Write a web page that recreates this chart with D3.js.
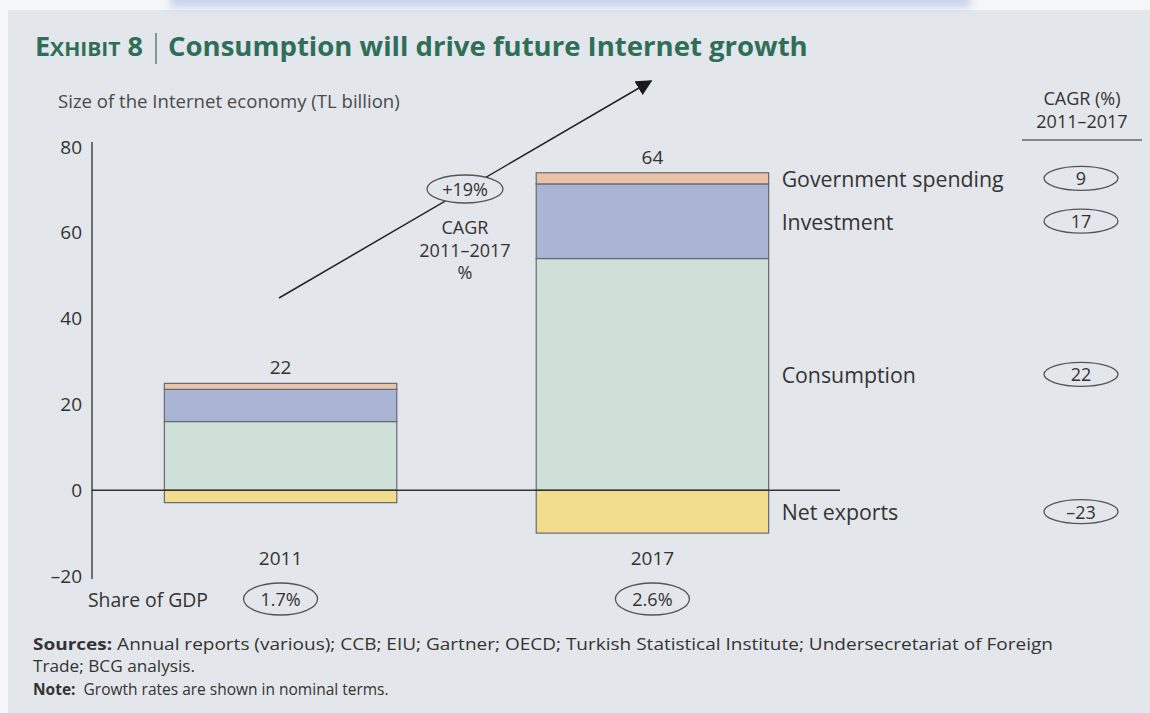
<!DOCTYPE html>
<html>
<head>
<meta charset="utf-8">
<script src="https://cdn.jsdelivr.net/npm/d3@7"></script>
<style>
  body { margin: 0; background: #ffffff; }
  svg { display: block; }
  text { font-family: "Open Sans", "Noto Sans", sans-serif; }
</style>
</head>
<body>
<svg id="chart" width="1150" height="713"></svg>
<script>
// ---- data (TL billion) ----
const years = ["2011", "2017"];
const components = ["Net exports", "Consumption", "Investment", "Government spending"];
const netExports = [-2.9, -10];
const consumption = [16, 54];
const investment = [7.5, 17.4];
const government = [1.4, 2.6];
const componentCagr = [-23, 22, 17, 9];          // % per year, 2011–2017, same order as components
const gdpShare = ["1.7%", "2.6%"];
const totalCagr = "+19%";
const yTicks = [-20, 0, 20, 40, 60, 80];

const W = 1150, H = 713;
const svg = d3.select("#chart");
const panel = "#e3e6ea";
const ink = "#333333";
const green = "#2f6e58";

// scale a text element's font size so its advance width equals w
function fitWidth(sel, w) {
  const len = sel.node().getComputedTextLength();
  const fs = parseFloat(sel.attr("font-size"));
  sel.attr("font-size", (fs * w / len).toFixed(2));
  return sel;
}
// keep the font size, stretch or squeeze the run to width w
function setLength(sel, w) {
  sel.attr("textLength", w).attr("lengthAdjust", "spacingAndGlyphs");
  return sel;
}
const dash = v => (v < 0 ? "\u2013" + Math.abs(v) : String(v));

// ---- page frame ----
const defs = svg.append("defs");
defs.append("filter").attr("id", "soft").attr("x", "-20%").attr("y", "-200%")
  .attr("width", "140%").attr("height", "500%")
  .append("feGaussianBlur").attr("stdDeviation", 4);
defs.append("marker").attr("id", "head").attr("viewBox", "0 0 10 10")
  .attr("refX", 9).attr("refY", 5).attr("markerWidth", 16).attr("markerHeight", 16)
  .attr("markerUnits", "userSpaceOnUse").attr("orient", "auto")
  .append("path").attr("d", "M0,0 L10,5 L0,10 Z").attr("fill", "#1a1a1a");

svg.append("rect").attr("width", W).attr("height", H).attr("fill", "#f5f6f8");
svg.append("rect").attr("x", 8).attr("y", 10).attr("width", W - 8).attr("height", H - 10).attr("fill", panel);
svg.append("rect").attr("x", 170).attr("y", -6).attr("width", 800).attr("height", 13)
  .attr("fill", "#c4d1ec").attr("filter", "url(#soft)");

// ---- title ----
const exhibit = svg.append("text").attr("x", 35).attr("y", 56).attr("font-size", 26)
  .attr("font-weight", 700).attr("fill", green);
exhibit.append("tspan").text("E");
exhibit.append("tspan").attr("font-size", "0.78em").text("XHIBIT");
exhibit.append("tspan").text(" 8");
setLength(exhibit, 108);
svg.append("line").attr("x1", 156).attr("x2", 156).attr("y1", 33).attr("y2", 64)
  .attr("stroke", green).attr("stroke-width", 1.2);
const title = svg.append("text").attr("x", 168).attr("y", 56).attr("font-size", 26)
  .attr("font-weight", 700).attr("fill", green)
  .text("Consumption will drive future Internet growth");
fitWidth(title, 640);

const sub = svg.append("text").attr("x", 58).attr("y", 100).attr("dominant-baseline", "central")
  .attr("font-size", 15).attr("fill", "#4a4a4a")
  .text("Size of the Internet economy (TL billion)");
fitWidth(sub, 342);

// ---- scales ----
const y = d3.scaleLinear().domain([-20, 80]).range([576, 147]);
const x = d3.scaleBand().domain(years).range([90, 843]).paddingInner(0.375).paddingOuter(0.2);

// ---- y axis ----
const yAxis = svg.append("g").attr("transform", "translate(92,0)")
  .call(d3.axisLeft(y).tickValues(yTicks).tickSize(0).tickPadding(10).tickFormat(dash));
yAxis.select(".domain").remove();
yAxis.selectAll("text").attr("font-size", 19).attr("fill", ink)
  .attr("font-family", '"Open Sans", sans-serif');
svg.append("line").attr("x1", 92).attr("x2", 92).attr("y1", y(80) - 5).attr("y2", y(-20) + 3)
  .attr("stroke", "#444").attr("stroke-width", 1.5);

// ---- stacked bars ----
const rows = years.map((yr, i) => ({
  year: yr,
  "Net exports": netExports[i],
  "Consumption": consumption[i],
  "Investment": investment[i],
  "Government spending": government[i]
}));
const series = d3.stack().keys(components).offset(d3.stackOffsetDiverging)(rows);
const color = d3.scaleOrdinal().domain(components)
  .range(["#f2dc8d", "#cfe0d9", "#aab5d5", "#e9c3aa"]);

svg.append("g").selectAll("g").data(series).join("g")
  .attr("fill", s => color(s.key))
  .selectAll("rect").data(s => s).join("rect")
  .attr("x", d => x(d.data.year))
  .attr("width", x.bandwidth())
  .attr("y", d => y(d[1]))
  .attr("height", d => y(d[0]) - y(d[1]))
  .attr("stroke", "#666a72").attr("stroke-width", 1.2);

// zero line
svg.append("line").attr("x1", 92).attr("x2", 840).attr("y1", y(0)).attr("y2", y(0))
  .attr("stroke", "#333").attr("stroke-width", 1.4);

// totals above bars
const tops = rows.map(r => d3.sum(components, k => Math.max(0, r[k])));
const totals = rows.map(r => d3.sum(components, k => r[k]));
svg.append("g").selectAll("text").data(years).join("text")
  .attr("x", d => x(d) + x.bandwidth() / 2)
  .attr("y", (d, i) => y(tops[i]) - 16)
  .attr("text-anchor", "middle").attr("dominant-baseline", "central")
  .attr("font-size", 19).attr("fill", ink)
  .text((d, i) => d3.format(".0f")(totals[i]));

// year labels
svg.append("g").selectAll("text").data(years).join("text")
  .attr("x", d => x(d) + x.bandwidth() / 2).attr("y", 558)
  .attr("text-anchor", "middle").attr("dominant-baseline", "central")
  .attr("font-size", 19).attr("fill", ink).text(d => d);

// ---- component labels beside the 2017 bar ----
const last = years.length - 1;
const labelX = x(years[last]) + x.bandwidth() + 13;
const probe = svg.append("text").attr("font-size", 20).text("Government spending");
fitWidth(probe, 222);
const labelSize = probe.attr("font-size");
probe.remove();
svg.append("g").selectAll("text").data(series).join("text")
  .attr("x", labelX)
  .attr("y", s => y((s[last][0] + s[last][1]) / 2))
  .attr("dominant-baseline", "central")
  .attr("font-size", labelSize).attr("fill", ink)
  .text(s => s.key);

// ---- CAGR column ----
const cagrX = 1081;
svg.append("text").attr("x", 1082).attr("y", 98).attr("text-anchor", "middle")
  .attr("dominant-baseline", "central").attr("font-size", 18).attr("fill", ink).text("CAGR (%)");
svg.append("text").attr("x", 1082).attr("y", 121).attr("text-anchor", "middle")
  .attr("dominant-baseline", "central").attr("font-size", 18).attr("fill", ink).text("2011\u20132017");
svg.append("line").attr("x1", 1022).attr("x2", 1142).attr("y1", 140).attr("y2", 140)
  .attr("stroke", "#666").attr("stroke-width", 1.3);

const cagrG = svg.append("g").selectAll("g").data(series).join("g")
  .attr("transform", s => `translate(${cagrX},${y((s[last][0] + s[last][1]) / 2)})`);
cagrG.append("ellipse").attr("rx", 37).attr("ry", 12)
  .attr("fill", "none").attr("stroke", "#555").attr("stroke-width", 1.3);
cagrG.append("text").attr("text-anchor", "middle").attr("dominant-baseline", "central")
  .attr("font-size", 18).attr("fill", ink)
  .text((s, i) => dash(componentCagr[i]));

// ---- overall growth arrow ----
svg.append("line").attr("x1", 279).attr("y1", 298).attr("x2", 651).attr("y2", 81)
  .attr("stroke", "#222").attr("stroke-width", 1.5).attr("marker-end", "url(#head)");
const g19 = svg.append("g").attr("transform", "translate(465,189)");
g19.append("ellipse").attr("rx", 38).attr("ry", 14).attr("fill", panel)
  .attr("stroke", "#555").attr("stroke-width", 1.3);
g19.append("text").attr("text-anchor", "middle").attr("dominant-baseline", "central")
  .attr("font-size", 18).attr("fill", ink).text(totalCagr);
["CAGR", "2011\u20132017", "%"].forEach((t, i) => {
  svg.append("text").attr("x", 465).attr("y", 227 + i * 22.5).attr("text-anchor", "middle")
    .attr("dominant-baseline", "central").attr("font-size", 18).attr("fill", ink).text(t);
});

// ---- share of GDP ----
const shareLbl = svg.append("text").attr("x", 88).attr("y", 599).attr("dominant-baseline", "central")
  .attr("font-size", 19).attr("fill", ink).text("Share of GDP");
fitWidth(shareLbl, 120);
const gdpG = svg.append("g").selectAll("g").data(years).join("g")
  .attr("transform", d => `translate(${x(d) + x.bandwidth() / 2},599)`);
gdpG.append("ellipse").attr("rx", 37).attr("ry", 16)
  .attr("fill", "none").attr("stroke", "#555").attr("stroke-width", 1.3);
gdpG.append("text").attr("text-anchor", "middle").attr("dominant-baseline", "central")
  .attr("font-size", 18).attr("fill", ink).text((d, i) => gdpShare[i]);

// ---- sources and note ----
const noteSize = 15.5;
const src = svg.append("text").attr("x", 33).attr("y", 650).attr("font-size", noteSize).attr("fill", ink);
src.append("tspan").attr("font-weight", 700).text("Sources:");
src.append("tspan").text(" Annual reports (various); CCB; EIU; Gartner; OECD; Turkish Statistical Institute; Undersecretariat of Foreign");
setLength(src, 1020);
const trade = svg.append("text").attr("x", 33).attr("y", 672).attr("font-size", noteSize).attr("fill", ink)
  .text("Trade; BCG analysis.");
setLength(trade, 162);
const note = svg.append("text").attr("x", 33).attr("y", 695).attr("font-size", noteSize).attr("fill", ink);
note.append("tspan").attr("font-weight", 700).text("Note:");
note.append("tspan").text("\u00a0 Growth rates are shown in nominal terms.");
</script>
</body>
</html>
